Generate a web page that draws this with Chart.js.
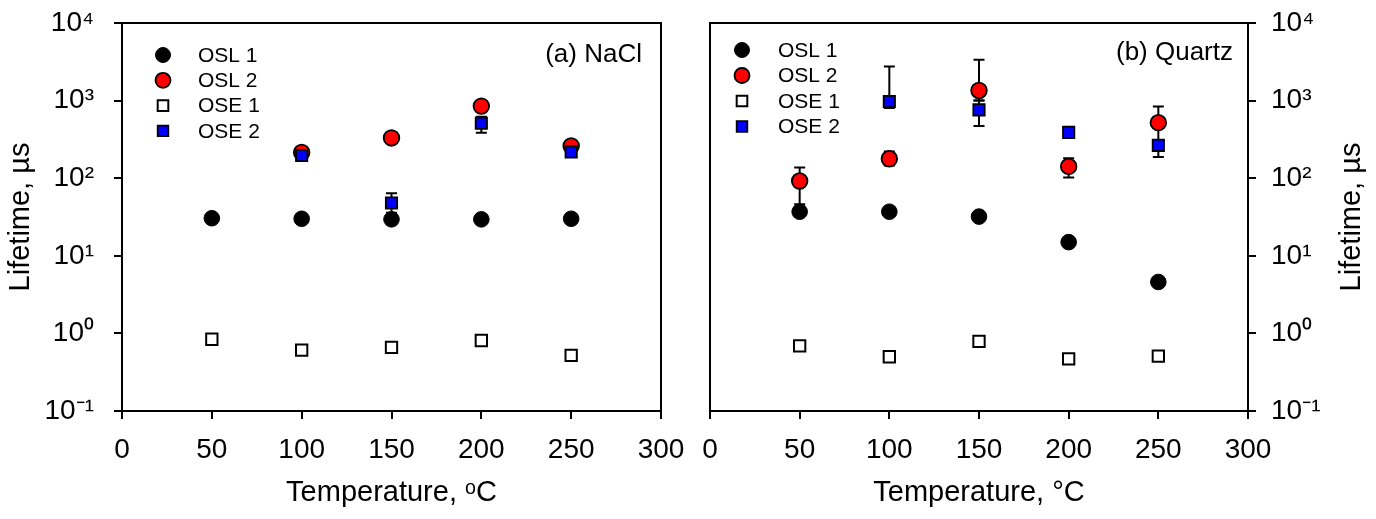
<!DOCTYPE html>
<html>
<head>
<meta charset="utf-8">
<script src="https://cdn.jsdelivr.net/npm/chart.js@4.4.0/dist/chart.umd.min.js"></script>
<style>
    html, body { margin: 0; padding: 0; background: #fff; }
    #wrap { display: flex; width: 1376px; height: 519px; }
    .panel { position: relative; width: 688px; height: 519px; }
</style>
</head>
<body>
<div id="wrap">
    <div class="panel"><canvas id="naclChart"></canvas></div>
    <div class="panel"><canvas id="quartzChart"></canvas></div>
</div>
<script>
// shared axes
const temperatures = [50, 100, 150, 200, 250];
const xTicks = [0, 50, 100, 150, 200, 250, 300];
const yTicks = [0.1, 1, 10, 100, 1000, 10000];
const yTickLabels = ['10⁻¹', '10⁰', '10¹', '10²', '10³', '10⁴'];
const seriesNames = ['OSL 1', 'OSL 2', 'OSE 1', 'OSE 2'];

// (a) NaCl, lifetimes in µs
const naclOsl1 = [30.5, 30, 29.5, 29.5, 30];
const naclOsl2 = [null, 215, 330, 850, 260];
const naclOse1 = [0.84, 0.61, 0.66, 0.81, 0.52];
const naclOse2 = [null, 196, 48, 510, 218];
const naclOse2Hi = [null, null, 64, 620, null];
const naclOse2Lo = [null, null, 36, 385, null];

// (b) Quartz, lifetimes in µs
const quartzOsl1 = [37, 37, 32, 15, 4.6];
const quartzOsl2 = [92, 178, 1350, 142, 520];
const quartzOsl2Hi = [137, 221, 3350, 181, 840];
const quartzOsl2Lo = [46, 146, 1000, 102, 300];
const quartzOse1 = [0.69, 0.50, 0.79, 0.47, 0.51];
const quartzOse2 = [null, 975, 760, 390, 265];
const quartzOse2Hi = [null, 2750, 1000, null, 300];
const quartzOse2Lo = [null, 800, 470, null, 188];

const FONT = "'Liberation Sans', Arial, sans-serif";
Chart.defaults.font.family = FONT;
Chart.defaults.color = '#000';

function toPoints(values) {
    return temperatures.map((t, i) => ({ x: t, y: values[i] }));
}

function makeDatasets(osl1, osl2, ose1, ose2, errors) {
    return [
        { label: seriesNames[0], data: toPoints(osl1), pointStyle: 'circle', pointRadius: 7.8,
          backgroundColor: '#000', borderColor: '#000', borderWidth: 1, order: 4 },
        { label: seriesNames[1], data: toPoints(osl2), pointStyle: 'circle', pointRadius: 7.8,
          backgroundColor: '#ff0000', borderColor: '#000', borderWidth: 1.8, order: 3,
          errHi: errors.osl2Hi, errLo: errors.osl2Lo },
        { label: seriesNames[2], data: toPoints(ose1), pointStyle: 'rect', pointRadius: 8,
          backgroundColor: '#fff', borderColor: '#000', borderWidth: 2, order: 2 },
        { label: seriesNames[3], data: toPoints(ose2), pointStyle: 'rect', pointRadius: 8,
          backgroundColor: '#0000ff', borderColor: '#000', borderWidth: 1.8, order: 1,
          errHi: errors.ose2Hi, errLo: errors.ose2Lo }
    ];
}

// box around the plot area
const framePlugin = {
    id: 'frame',
    beforeDatasetsDraw(chart) {
        const { ctx, chartArea: a } = chart;
        ctx.save();
        ctx.strokeStyle = '#000';
        ctx.lineWidth = 2;
        ctx.strokeRect(a.left, a.top, a.right - a.left, a.bottom - a.top);
        ctx.restore();
    }
};

// vertical error bars with caps, drawn under the markers
const errorBarPlugin = {
    id: 'errorBars',
    beforeDatasetsDraw(chart) {
        const { ctx } = chart;
        const yScale = chart.scales.y;
        ctx.save();
        ctx.strokeStyle = '#000';
        ctx.lineWidth = 2;
        chart.data.datasets.forEach((ds, di) => {
            if (!ds.errHi) return;
            const meta = chart.getDatasetMeta(di);
            meta.data.forEach((pt, i) => {
                const hi = ds.errHi[i], lo = ds.errLo[i];
                if (ds.data[i].y == null || (hi == null && lo == null)) return;
                const x = pt.x;
                const yHi = yScale.getPixelForValue(hi != null ? hi : ds.data[i].y);
                const yLo = yScale.getPixelForValue(lo != null ? lo : ds.data[i].y);
                ctx.beginPath();
                ctx.moveTo(x, yHi);
                ctx.lineTo(x, yLo);
                if (hi != null) { ctx.moveTo(x - 5.5, yHi); ctx.lineTo(x + 5.5, yHi); }
                if (lo != null) { ctx.moveTo(x - 5.5, yLo); ctx.lineTo(x + 5.5, yLo); }
                ctx.stroke();
            });
        });
        ctx.restore();
    }
};

// legend and panel label inside the plot, plus a right-side y title
const insetPlugin = {
    id: 'inset',
    afterDraw(chart, args, opts) {
        const { ctx, chartArea: a } = chart;
        ctx.save();
        chart.data.datasets.forEach((ds, i) => {
            const mx = a.left + opts.legendX;
            const my = a.top + opts.legendY + i * opts.rowGap;
            ctx.fillStyle = ds.backgroundColor;
            ctx.strokeStyle = ds.borderColor;
            ctx.lineWidth = ds.borderWidth;
            Chart.helpers.drawPoint(ctx, {
                pointStyle: ds.pointStyle, radius: 7.5, rotation: 0, borderWidth: ds.borderWidth
            }, mx, my);
            ctx.fillStyle = '#000';
            ctx.font = '21px ' + FONT;
            ctx.textAlign = 'left';
            ctx.textBaseline = 'middle';
            ctx.fillText(ds.label, mx + opts.textGap, my + 1);
        });
        ctx.fillStyle = '#000';
        ctx.font = '26px ' + FONT;
        ctx.textAlign = 'right';
        ctx.textBaseline = 'middle';
        ctx.fillText(opts.panelLabel, a.right - opts.labelRight, a.top + opts.labelY);
        if (opts.rightTitle) {
            ctx.translate(opts.rightTitleX, (a.top + a.bottom) / 2);
            ctx.rotate(-Math.PI / 2);
            ctx.font = '29px ' + FONT;
            ctx.textAlign = 'center';
            ctx.fillText(opts.rightTitle, 0, 0);
        }
        ctx.restore();
    }
};

function makePanel(canvasId, datasets, side, inset, xTitle) {
    const ctx = document.getElementById(canvasId).getContext('2d');
    const axisLine = { display: true, color: '#000', width: 2 };
    const tickGrid = { drawOnChartArea: false, drawTicks: true, tickLength: 8, color: '#000', lineWidth: 2 };
    return new Chart(ctx, {
        type: 'scatter',
        data: { datasets: datasets },
        plugins: [framePlugin, errorBarPlugin, insetPlugin],
        options: {
            responsive: true,
            maintainAspectRatio: false,
            animation: false,
            events: [],
            layout: {
                padding: side === 'left'
                    ? { left: 0, right: 27, top: 23, bottom: 0 }
                    : { left: 22, right: 0, top: 23, bottom: 0 }
            },
            plugins: {
                legend: { display: false },
                tooltip: { enabled: false },
                inset: inset
            },
            scales: {
                x: {
                    type: 'linear',
                    min: 0,
                    max: 300,
                    afterBuildTicks: s => { s.ticks = xTicks.map(v => ({ value: v })); },
                    afterFit: s => { s.height = 108; s.paddingLeft = 0; s.paddingRight = 0; },
                    ticks: { autoSkip: false, maxRotation: 0, padding: 14, font: { size: 28 } },
                    grid: tickGrid,
                    border: axisLine,
                    title: { display: true, text: xTitle, font: { size: 29 }, padding: { top: 0, bottom: 9 } }
                },
                y: {
                    type: 'logarithmic',
                    position: side,
                    min: 0.1,
                    max: 10000,
                    afterBuildTicks: s => { s.ticks = yTicks.map(v => ({ value: v })); },
                    afterFit: s => { s.width = side === 'left' ? 122 : 128; s.paddingTop = 0; s.paddingBottom = 0; },
                    ticks: {
                        autoSkip: false,
                        padding: side === 'left' ? 20 : 15,
                        font: { size: 28 },
                        callback: (value, index) => yTickLabels[index]
                    },
                    grid: tickGrid,
                    border: axisLine,
                    title: {
                        display: side === 'left',
                        text: 'Lifetime, µs',
                        font: { size: 29 },
                        padding: { top: 4, bottom: 0 }
                    }
                }
            }
        }
    });
}

document.addEventListener('DOMContentLoaded', function() {
    makePanel('naclChart',
        makeDatasets(naclOsl1, naclOsl2, naclOse1, naclOse2,
            { osl2Hi: null, osl2Lo: null, ose2Hi: naclOse2Hi, ose2Lo: naclOse2Lo }),
        'left',
        { legendX: 41, legendY: 32, rowGap: 25.3, textGap: 35,
          panelLabel: '(a) NaCl', labelRight: 19, labelY: 32 },
        'Temperature, ᵒC');

    makePanel('quartzChart',
        makeDatasets(quartzOsl1, quartzOsl2, quartzOse1, quartzOse2,
            { osl2Hi: quartzOsl2Hi, osl2Lo: quartzOsl2Lo, ose2Hi: quartzOse2Hi, ose2Lo: quartzOse2Lo }),
        'right',
        { legendX: 32, legendY: 27, rowGap: 25.5, textGap: 36,
          panelLabel: '(b) Quartz', labelRight: 15, labelY: 30,
          rightTitle: 'Lifetime, µs', rightTitleX: 664 },
        'Temperature, °C');
});
</script>
</body>
</html>
